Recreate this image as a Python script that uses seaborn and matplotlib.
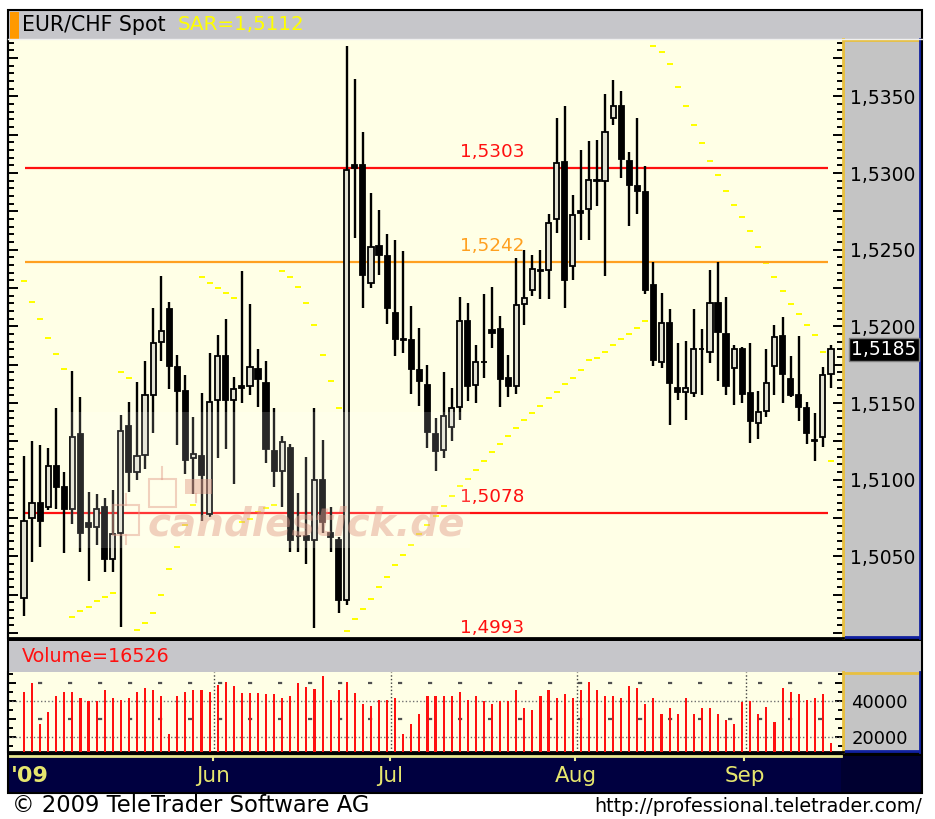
import numpy as np
import pandas as pd
import matplotlib
matplotlib.use("Agg")
import matplotlib.pyplot as plt
import matplotlib.transforms as mtransforms
from matplotlib.patches import Rectangle
from matplotlib.ticker import MultipleLocator, FuncFormatter
import seaborn as sns

plt.rcParams['font.family'] = ['DejaVu Sans']
plt.rcParams['lines.scale_dashes'] = False

# ---------------- data ----------------
opens = [1.50230, 1.50750, 1.50850, 1.50820, 1.51090, 1.50950, 1.50810, 1.51300, 1.50720, 1.50695,
         1.50820, 1.50480, 1.50650, 1.51350, 1.51050, 1.51160, 1.51550, 1.51900, 1.52115, 1.51735,
         1.51580, 1.51140, 1.51155, 1.50776, 1.51520, 1.51810, 1.51520, 1.51610, 1.51610, 1.51720,
         1.51630, 1.51190, 1.51060, 1.51205, 1.50635, 1.50630, 1.50610, 1.51000, 1.50650, 1.50610,
         1.50216, 1.53050, 1.53050, 1.52286, 1.52527, 1.52456, 1.52090, 1.51915, 1.51910, 1.51714,
         1.51620, 1.51300, 1.51194, 1.51346, 1.51477, 1.52034, 1.51615, 1.51770, 1.51975, 1.51980,
         1.51665, 1.51610, 1.52143, 1.52240, 1.52370, 1.52370, 1.52700, 1.53070, 1.52397, 1.52755,
         1.52766, 1.52955, 1.52950, 1.53358, 1.53438, 1.53080, 1.52913, 1.52874, 1.52268, 1.51770,
         1.52020, 1.51600, 1.51570, 1.51568, 1.51855, 1.51832, 1.52154, 1.51953, 1.51730, 1.51854,
         1.51563, 1.51373, 1.51448, 1.51740, 1.51940, 1.51654, 1.51550, 1.51470, 1.51260, 1.51280,
         1.51690]
highs = [1.51155, 1.51250, 1.51225, 1.51210, 1.51470, 1.51050, 1.51710, 1.51540, 1.50920, 1.50906,
         1.50884, 1.50934, 1.51420, 1.51510, 1.51640, 1.51774, 1.52117, 1.52327, 1.52158, 1.51813,
         1.51682, 1.51410, 1.51563, 1.51828, 1.51943, 1.52050, 1.51670, 1.52364, 1.52143, 1.51854,
         1.51774, 1.51470, 1.51285, 1.51230, 1.50916, 1.51150, 1.51470, 1.51260, 1.50824, 1.50626,
         1.53830, 1.53610, 1.53270, 1.52867, 1.52760, 1.52605, 1.52563, 1.52490, 1.52134, 1.51990,
         1.51750, 1.51405, 1.51700, 1.51600, 1.52190, 1.52154, 1.51876, 1.52208, 1.52260, 1.52066,
         1.51813, 1.52447, 1.52500, 1.52468, 1.52500, 1.52735, 1.53358, 1.53438, 1.52859, 1.53150,
         1.53206, 1.53217, 1.53516, 1.53607, 1.53538, 1.53140, 1.53358, 1.53043, 1.52418, 1.52220,
         1.52115, 1.51890, 1.51904, 1.52115, 1.51984, 1.52366, 1.52418, 1.52193, 1.51876, 1.51867,
         1.51893, 1.51578, 1.51854, 1.52008, 1.52060, 1.51810, 1.51940, 1.51510, 1.51433, 1.51735,
         1.51876]
lows = [1.50110, 1.50465, 1.50560, 1.50800, 1.50810, 1.50520, 1.50710, 1.50530, 1.50340, 1.50574,
        1.50400, 1.50400, 1.50038, 1.50920, 1.51000, 1.51068, 1.51307, 1.51774, 1.51594, 1.51225,
        1.51040, 1.50910, 1.50728, 1.50754, 1.51145, 1.51200, 1.50975, 1.51503, 1.51550, 1.51477,
        1.51108, 1.50950, 1.50820, 1.50530, 1.50526, 1.50450, 1.50030, 1.50650, 1.50526, 1.50130,
        1.50180, 1.52576, 1.52120, 1.52250, 1.52335, 1.52016, 1.51810, 1.51824, 1.51560, 1.51480,
        1.51210, 1.51057, 1.51140, 1.51250, 1.51390, 1.51513, 1.51503, 1.51665, 1.51860, 1.51477,
        1.51540, 1.51557, 1.52010, 1.52197, 1.52180, 1.52180, 1.52610, 1.52120, 1.52305, 1.52566,
        1.52566, 1.52787, 1.52327, 1.53314, 1.52967, 1.52657, 1.52735, 1.52214, 1.51740, 1.51730,
        1.51360, 1.51520, 1.51390, 1.51540, 1.51550, 1.51763, 1.51643, 1.51552, 1.51487, 1.51503,
        1.51238, 1.51264, 1.51410, 1.51550, 1.51503, 1.51540, 1.51383, 1.51230, 1.51123, 1.51216,
        1.51600]
closes = [1.50730, 1.50850, 1.50730, 1.51090, 1.50950, 1.50810, 1.51280, 1.50650, 1.50690, 1.50810,
          1.50480, 1.50645, 1.51320, 1.51050, 1.51155, 1.51550, 1.51890, 1.51970, 1.51740, 1.51580,
          1.51130, 1.51170, 1.51030, 1.51510, 1.51810, 1.51520, 1.51590, 1.51600, 1.51735, 1.51660,
          1.51200, 1.51060, 1.51246, 1.50610, 1.50630, 1.50610, 1.51000, 1.50725, 1.50626, 1.50216,
          1.53020, 1.53030, 1.52335, 1.52520, 1.52464, 1.52120, 1.51917, 1.51908, 1.51720, 1.51644,
          1.51310, 1.51190, 1.51415, 1.51470, 1.52034, 1.51610, 1.51770, 1.51765, 1.51960, 1.51660,
          1.51610, 1.52138, 1.52186, 1.52375, 1.52360, 1.52675, 1.53065, 1.52305, 1.52728, 1.52740,
          1.52953, 1.52950, 1.53267, 1.53434, 1.53090, 1.52920, 1.52880, 1.52236, 1.51780, 1.52020,
          1.51630, 1.51570, 1.51600, 1.51850, 1.51850, 1.52154, 1.51962, 1.51610, 1.51854, 1.51556,
          1.51383, 1.51442, 1.51628, 1.51930, 1.51687, 1.51550, 1.51477, 1.51307, 1.51255, 1.51680,
          1.51850]
sar = [1.52294, 1.52162, 1.52045, 1.51926, 1.51822, 1.51720, 1.50103, 1.50146, 1.50168, 1.50211,
       1.50233, 1.50261, 1.51704, 1.51663, 1.50022, 1.50066, 1.50130, 1.50247, 1.50416, 1.50563,
       1.50706, 1.50836, 1.52320, 1.52281, 1.52253, 1.52219, 1.52186, 1.50722, 1.50743, 1.50787,
       1.50813, 1.50836, 1.52360, 1.52322, 1.52258, 1.52153, 1.52009, 1.51813, 1.51644, 1.51470,
       1.50012, 1.50092, 1.50157, 1.50222, 1.50298, 1.50367, 1.50445, 1.50510, 1.50576, 1.50645,
       1.50706, 1.50764, 1.50826, 1.50891, 1.50960, 1.51008, 1.51062, 1.51123, 1.51179, 1.51231,
       1.51285, 1.51340, 1.51392, 1.51433, 1.51481, 1.51531, 1.51574, 1.51626, 1.51661, 1.51715,
       1.51778, 1.51796, 1.51832, 1.51876, 1.51915, 1.51952, 1.51991, 1.52034, 1.53831, 1.53792,
       1.53712, 1.53564, 1.53434, 1.53314, 1.53199, 1.53080, 1.52989, 1.52885, 1.52794, 1.52714,
       1.52624, 1.52518, 1.52414, 1.52320, 1.52229, 1.52149, 1.52084, 1.52006, 1.51941, 1.51835,
       1.51120]
volume = [45200, 49800, 27200, 34100, 43000, 45200, 45200, 41500, 40000, 40000,
          46100, 41500, 40600, 41900, 45200, 47000, 46100, 43000, 21500, 43000,
          45200, 46100, 46100, 45200, 48900, 50700, 48500, 44300, 44300, 44300,
          43900, 43900, 41900, 43000, 49800, 47600, 46500, 54100, 40600, 46100,
          50700, 44300, 38300, 37400, 40600, 40600, 41900, 21500, 27000, 32800,
          43000, 43000, 43000, 43000, 45200, 40600, 42800, 40000, 38300, 40000,
          40000, 46100, 35900, 35000, 42800, 46100, 41500, 43900, 41500, 46100,
          50400, 46100, 42800, 42800, 41500, 48300, 47000, 38300, 41500, 32600,
          35900, 32600, 41500, 32600, 35900, 35900, 32600, 29500, 27000, 39600,
          40000, 32600, 36900, 28200, 47000, 45200, 43900, 40600, 41500, 43900,
          16526]
level_values = [1.5303, 1.5242, 1.5078, 1.4993]
level_colors = ['#FF1010', '#FFA020', '#FF1010', '#FF1010']
month_labels = ['Jun', 'Jul', 'Aug', 'Sep']
month_first_index = [24, 46, 69, 90]
price_labels = [1.5050, 1.5100, 1.5150, 1.5200, 1.5250, 1.5300, 1.5350]
volume_labels = [20000, 40000]
title_text = 'EUR/CHF Spot'
sar_text = 'SAR=1,5112'
volume_text = 'Volume=16526'
year_label = "'09"

df = pd.DataFrame({'open': opens, 'high': highs, 'low': lows, 'close': closes,
                   'sar': sar, 'volume': volume})
df['idx'] = np.arange(len(df))


def fmt_price(v):
    return f"{v:.4f}".replace('.', ',')


price_label_keys = {round(v * 10000) for v in price_labels}

# ---------------- figure / layout ----------------
W, H = 935, 819
fig = plt.figure(figsize=(W / 100, H / 100), dpi=100, facecolor='white')


def pax(x0, y0, x1, y1, **kw):
    return fig.add_axes([x0 / W, 1 - y1 / H, (x1 - x0) / W, (y1 - y0) / H], **kw)


GRAY = '#C6C6CA'
PANEL = '#C4C4C4'
YEL_BG = '#FFFFE6'
GOLD = '#E8C040'
BLUE = '#1020A0'
NAVY = '#000040'
TXT_YEL = '#E6E66E'

bg = pax(0, 0, W, H)
bg.set_xlim(0, W); bg.set_ylim(H, 0); bg.axis('off'); bg.set_zorder(-5)
bg.add_patch(Rectangle((8, 10), 914, 29, fc=GRAY, ec='none'))
bg.add_patch(Rectangle((9.5, 11.5), 9, 27, fc='#FF9900', ec='none'))
bg.add_patch(Rectangle((8, 641), 914, 31, fc=GRAY, ec='none'))
bg.add_patch(Rectangle((843, 39), 78, 600, fc=PANEL, ec='none'))
bg.add_patch(Rectangle((843, 672), 78, 81, fc=PANEL, ec='none'))
bg.add_patch(Rectangle((8, 638), 914, 3, fc='black', ec='none'))
bg.add_patch(Rectangle((8, 752), 914, 5, fc='black', ec='none'))
bg.add_patch(Rectangle((8, 756), 914, 37, fc='#000030', ec='none'))
# panel bevels
for (y0, y1) in [(39, 638), (672, 752)]:
    bg.plot([843, 843], [y0, y1], color=GOLD, lw=2)
    bg.plot([843, 920], [y0 + 1, y0 + 1], color=GOLD, lw=2)
    bg.plot([920, 920], [y0, y1], color=BLUE, lw=2)
    bg.plot([843, 920], [y1 - 1, y1 - 1], color=BLUE, lw=2)
bg.text(22, 25, title_text, fontsize=14.8, color='black', va='center', ha='left')
bg.text(178, 25, sar_text, fontsize=14.3, color='#FFFF00', va='center', ha='left')
bg.text(22, 657, volume_text, fontsize=13.8, color='#FF1010', va='center', ha='left')
bg.text(12, 806, '\u00a9 2009 TeleTrader Software AG', fontsize=16.3, color='black',
        va='center', ha='left')
bg.text(922, 806, 'http://professional.teletrader.com/', fontsize=13.8, color='black',
        va='center', ha='right')

XLIM = (-1.98, 101.49)

# ---------------- main price axes ----------------
ax = pax(8, 39, 843, 638)
ax.set_facecolor(YEL_BG)
ax.set_xlim(*XLIM)
ax.set_ylim(1.49968, 1.53874)

up = df['close'] >= df['open']
ax.vlines(df['idx'], df['low'], df['high'], color='black', lw=1.7, zorder=3)
body_lo = np.minimum(df['open'], df['close'])
body_h = np.maximum((df['close'] - df['open']).abs(), 0.00004)
ax.bar(df['idx'][up], body_h[up], bottom=body_lo[up], width=0.64,
       color='#E2E2D2', edgecolor='black', linewidth=1.3, zorder=4)
ax.bar(df['idx'][~up], body_h[~up], bottom=body_lo[~up], width=0.64,
       color='black', edgecolor='black', linewidth=1.3, zorder=4)

sar_marker = [(-1, -0.35), (1, -0.35), (1, 0.35), (-1, 0.35), (-1, -0.35)]
sns.scatterplot(data=df, x='idx', y='sar', marker=sar_marker, s=14, color='#FFFF00',
                linewidth=0, ax=ax, zorder=2, legend=False)

for val, col in zip(level_values, level_colors):
    ax.hlines(val, 0.1, 99.6, color=col, lw=1.6, zorder=2.5)
    ax.annotate(fmt_price(val), xy=(58, val), xytext=(0, 7), textcoords='offset pixels',
                ha='center', va='bottom', color=col, fontsize=13.2, annotation_clip=False)

ax.annotate(fmt_price(df['close'].iloc[-1]), xy=(1.0, df['close'].iloc[-1]),
            xycoords=('axes fraction', 'data'), xytext=(8, 0), textcoords='offset pixels',
            ha='left', va='center', color='white', fontsize=13.5, annotation_clip=False,
            bbox=dict(boxstyle='square,pad=0.12', fc='black', ec='#808080', lw=1))

ax.yaxis.set_major_locator(MultipleLocator(0.0025))
ax.yaxis.set_minor_locator(MultipleLocator(0.0005))
ax.yaxis.set_major_formatter(FuncFormatter(
    lambda v, p: fmt_price(v) if round(v * 10000) in price_label_keys else ''))
ax.tick_params(axis='y', which='both', direction='in', left=True, right=True,
               labelleft=False, labelright=True, color='black', width=1.4,
               labelsize=13.5, pad=5)
ax.tick_params(axis='y', which='major', length=7)
ax.tick_params(axis='y', which='minor', length=4.5)
ax.set_xticks([])
ax.set_xlabel(''); ax.set_ylabel('')
ax.spines['top'].set_visible(False)
ax.spines['left'].set_color('black'); ax.spines['left'].set_linewidth(1.5)
ax.spines['bottom'].set_color('black'); ax.spines['bottom'].set_linewidth(2)
ax.spines['right'].set_color(GOLD); ax.spines['right'].set_linewidth(2)

# ---------------- volume axes ----------------
axv = pax(8, 672, 843, 752)
axv.set_facecolor(YEL_BG)
sns.barplot(data=df, x='idx', y='volume', native_scale=True, color='#FF1010',
            saturation=1, width=0.26, errorbar=None, linewidth=0, ax=axv, zorder=3)
axv.set_xlim(*XLIM)
axv.set_ylim(11667, 56111)
month_pos = [i - 0.5 for i in month_first_index]
for lv in (20000, 40000):
    axv.axhline(lv, color='#707070', lw=1, ls=(0, (1.0, 1.6)), zorder=2)
for lv in (30000, 50000):
    axv.axhline(lv, xmin=0.036, color='#505050', lw=1.6, ls=(0, (3.0, 18.6)), zorder=2)
for p in month_pos:
    axv.axvline(p, color='#404040', lw=1, ls=(0, (1.0, 1.6)), zorder=2)
axv.yaxis.set_major_locator(MultipleLocator(10000))
axv.yaxis.set_minor_locator(MultipleLocator(5000))
axv.yaxis.set_major_formatter(FuncFormatter(
    lambda v, p: f"{int(round(v))}" if int(round(v)) in volume_labels else ''))
axv.tick_params(axis='y', which='both', direction='in', left=True, right=True,
                labelleft=False, labelright=True, color='black', width=1.4,
                labelsize=13, pad=6)
axv.tick_params(axis='y', which='major', length=6)
axv.tick_params(axis='y', which='minor', length=3.5)
axv.set_xticks([])
axv.set_xlabel(''); axv.set_ylabel('')
axv.spines['top'].set_visible(False)
axv.spines['left'].set_color('black'); axv.spines['left'].set_linewidth(1.5)
axv.spines['bottom'].set_color('black'); axv.spines['bottom'].set_linewidth(2)
axv.spines['right'].set_color(GOLD); axv.spines['right'].set_linewidth(2)

# ---------------- date band ----------------
axb = pax(8, 756, 841, 793)
axb.set_facecolor(NAVY)
axb.set_xlim(*XLIM); axb.set_ylim(0, 1)
axb.set_xticks([]); axb.set_yticks([])
for s in ('left', 'right', 'bottom'):
    axb.spines[s].set_visible(False)
axb.spines['top'].set_color('#E8E890'); axb.spines['top'].set_linewidth(2)
blend = mtransforms.blended_transform_factory(axb.transData, axb.transAxes)
for p, lab in zip(month_pos, month_labels):
    axb.text(p, 0.45, lab, transform=blend, ha='center', va='center',
             color=TXT_YEL, fontsize=15.5)
    axb.plot([p, p], [1.0, 0.88], transform=blend, color='#E8E890', lw=1.5)
axb.text(0.004, 0.45, year_label, transform=axb.transAxes, ha='left', va='center',
         color=TXT_YEL, fontsize=16, fontweight='bold')

# ---------------- overlay: watermark and frame ----------------
ov = pax(0, 0, W, H)
ov.set_xlim(0, W); ov.set_ylim(H, 0); ov.axis('off'); ov.set_zorder(10)
ov.patch.set_alpha(0)
ov.add_patch(Rectangle((70, 412), 400, 136, fc='white', ec='none', alpha=0.16))
wm = '#E09A88'
ov.add_patch(Rectangle((113, 505), 26, 30, fill=False, ec=wm, lw=1.5, alpha=0.45))
ov.plot([126, 126], [494, 505], color=wm, lw=1.5, alpha=0.45)
ov.plot([126, 126], [535, 544], color=wm, lw=1.5, alpha=0.45)
ov.add_patch(Rectangle((149, 479), 27, 28, fill=False, ec=wm, lw=1.5, alpha=0.45))
ov.plot([162, 162], [467, 479], color=wm, lw=1.5, alpha=0.45)
ov.add_patch(Rectangle((185, 479), 27, 15, fc=wm, ec='none', alpha=0.45))
ov.plot([196, 196], [494, 502], color=wm, lw=1.5, alpha=0.45)
ov.text(148, 535, 'candlestick.de', fontsize=28, fontweight='bold', fontstyle='italic',
        color=wm, alpha=0.45, ha='left', va='baseline')
ov.add_patch(Rectangle((7.5, 9.5), 914.5, 783.5, fill=False, ec='black', lw=1.5))
ov.plot([8, 922], [38.5, 38.5], color='#F0F0F0', lw=1)

fig.savefig('out.png', dpi=100, facecolor='white')
